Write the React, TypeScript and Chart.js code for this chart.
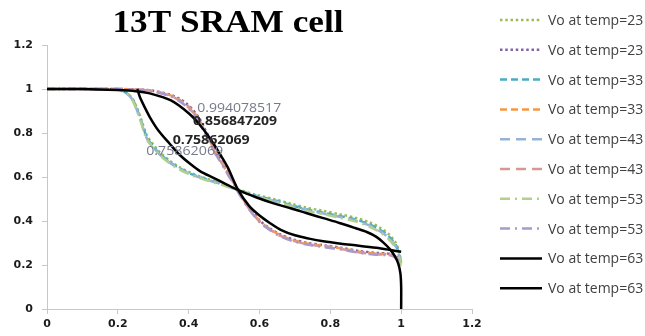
import React, { useEffect, useRef } from "react";
import { Chart, registerables } from "chart.js";

Chart.register(...registerables);

const TITLE = "13T SRAM cell";

const seriesLabels = [
  "Vo at temp=23",
  "Vo at temp=23",
  "Vo at temp=33",
  "Vo at temp=33",
  "Vo at temp=43",
  "Vo at temp=43",
  "Vo at temp=53",
  "Vo at temp=53",
  "Vo at temp=63",
  "Vo at temp=63",
];

const xTickValues = [0, 0.2, 0.4, 0.6, 0.8, 1, 1.2];
const yTickValues = [0, 0.2, 0.4, 0.6, 0.8, 1, 1.2];

// Group A (steep first) - shared x positions
const xA = [0, 0.1, 0.2, 0.215, 0.23, 0.243, 0.255, 0.265, 0.282, 0.3, 0.319, 0.345, 0.376, 0.41, 0.45, 0.5, 0.54, 0.59, 0.64, 0.69, 0.734, 0.78, 0.828, 0.875, 0.91, 0.94, 0.965, 0.985, 0.995, 1.0];
const yA23 = [1, 1, 0.998, 0.99, 0.976, 0.952, 0.91, 0.866, 0.79, 0.748, 0.712, 0.676, 0.643, 0.616, 0.593, 0.567, 0.544, 0.519, 0.5, 0.478, 0.46, 0.446, 0.43, 0.413, 0.394, 0.37, 0.34, 0.3, 0.255, 0.21];
const yA33 = [1, 1, 0.998, 0.99, 0.975, 0.95, 0.905, 0.86, 0.78, 0.74, 0.705, 0.67, 0.638, 0.612, 0.59, 0.565, 0.542, 0.515, 0.495, 0.472, 0.452, 0.438, 0.422, 0.405, 0.385, 0.36, 0.33, 0.29, 0.245, 0.2];
const yA43 = [1, 1, 0.998, 0.989, 0.973, 0.947, 0.9, 0.855, 0.775, 0.736, 0.701, 0.667, 0.635, 0.61, 0.588, 0.563, 0.54, 0.513, 0.492, 0.469, 0.449, 0.434, 0.418, 0.4, 0.38, 0.354, 0.323, 0.283, 0.238, 0.19];
const yA53 = [1, 1, 0.997, 0.988, 0.971, 0.944, 0.896, 0.85, 0.77, 0.732, 0.698, 0.664, 0.632, 0.607, 0.585, 0.561, 0.539, 0.511, 0.49, 0.466, 0.446, 0.431, 0.414, 0.396, 0.375, 0.349, 0.317, 0.277, 0.232, 0.18];

// Group B (gradual first) - shared x positions
const xB = [0, 0.1, 0.2, 0.25, 0.291, 0.347, 0.375, 0.395, 0.413, 0.43, 0.442, 0.457, 0.47, 0.485, 0.498, 0.512, 0.526, 0.54, 0.57, 0.602, 0.63, 0.658, 0.695, 0.734, 0.78, 0.828, 0.884, 0.93, 0.977, 1.0];
const yB23 = [1, 1, 1, 0.998, 0.994, 0.975, 0.954, 0.932, 0.903, 0.867, 0.829, 0.783, 0.738, 0.697, 0.661, 0.62, 0.582, 0.538, 0.463, 0.4, 0.366, 0.339, 0.316, 0.301, 0.29, 0.279, 0.263, 0.255, 0.248, 0.225];
const yB33 = [1, 1, 1, 0.998, 0.993, 0.972, 0.95, 0.927, 0.897, 0.86, 0.821, 0.775, 0.73, 0.69, 0.655, 0.615, 0.578, 0.535, 0.46, 0.397, 0.363, 0.336, 0.313, 0.298, 0.287, 0.276, 0.26, 0.252, 0.245, 0.22];
const yB43 = [1, 1, 1, 0.997, 0.992, 0.97, 0.947, 0.923, 0.892, 0.855, 0.815, 0.769, 0.725, 0.685, 0.651, 0.611, 0.575, 0.532, 0.457, 0.394, 0.36, 0.333, 0.31, 0.295, 0.284, 0.273, 0.257, 0.249, 0.242, 0.215];
const yB53 = [1, 1, 1, 0.997, 0.991, 0.968, 0.944, 0.919, 0.887, 0.85, 0.81, 0.764, 0.72, 0.681, 0.647, 0.608, 0.572, 0.53, 0.455, 0.392, 0.358, 0.331, 0.308, 0.293, 0.282, 0.271, 0.255, 0.247, 0.24, 0.21];

// temp=63 curves
const xC1 = [0, 0.1, 0.2, 0.25, 0.29, 0.35, 0.4, 0.43, 0.46, 0.49, 0.51, 0.54, 0.57, 0.6, 0.63, 0.66, 0.7, 0.74, 0.78, 0.83, 0.88, 0.93, 0.97, 1.0];
const yC1 = [1, 1, 0.995, 0.99, 0.98, 0.948, 0.89, 0.84, 0.776, 0.7, 0.645, 0.54, 0.47, 0.425, 0.39, 0.36, 0.335, 0.32, 0.308, 0.297, 0.288, 0.278, 0.268, 0.26];
const xC2 = [0.255, 0.262, 0.275, 0.291, 0.315, 0.347, 0.375, 0.404, 0.432, 0.47, 0.505, 0.54, 0.59, 0.64, 0.69, 0.734, 0.78, 0.828, 0.87, 0.903, 0.93, 0.95, 0.968, 0.982, 0.992, 0.998, 1.0, 1.0];
const yC2 = [1.0, 0.965, 0.92, 0.87, 0.81, 0.75, 0.7, 0.66, 0.627, 0.596, 0.568, 0.54, 0.508, 0.48, 0.457, 0.435, 0.413, 0.39, 0.368, 0.35, 0.328, 0.302, 0.272, 0.24, 0.205, 0.16, 0.1, 0.0];

// data labels shown in the chart
const dataLabelTexts = ["0.994078517", "0.856847209", "0.75862069", "0.75862069"];
const dataLabelX = [0.424, 0.412, 0.355, 0.28];
const dataLabelY = [0.914, 0.855, 0.768, 0.715];
const dataLabelBold = [false, true, true, false];

const seriesColors = ["#9bbb59", "#8064a2", "#4bacc6", "#f79646", "#95b3d7", "#da9694", "#b3cf8c", "#a899cc", "#000000", "#000000"];
const seriesDashes = [[2.5, 2.75], [2.5, 2.75], [7, 4], [7, 4], [10, 6], [10, 6], [10, 5, 2, 5], [10, 5, 2, 5], [], []];
const seriesWidths = [2.5, 2.5, 2.5, 2.5, 2.5, 2.5, 2.5, 2.5, 2.5, 2.5];

const seriesX = [xA, xB, xA, xB, xA, xB, xA, xB, xC1, xC2];
const seriesY = [yA23, yB23, yA33, yB33, yA43, yB43, yA53, yB53, yC1, yC2];

function drawStretched(ctx: CanvasRenderingContext2D, text: string, x: number, y: number, targetWidth: number, align: "left" | "center") {
  const w = ctx.measureText(text).width;
  const sx = targetWidth / w;
  ctx.save();
  ctx.translate(x, y);
  ctx.scale(sx, 1);
  ctx.textAlign = align;
  ctx.fillText(text, 0, 0);
  ctx.restore();
}

const decorPlugin = {
  id: "decor",
  afterDraw(chart: any) {
    const ctx: CanvasRenderingContext2D = chart.ctx;
    const xs = chart.scales.x;
    const ys = chart.scales.y;
    ctx.save();
    // title
    ctx.fillStyle = "#000000";
    ctx.font = "bold 31px 'Liberation Serif', serif";
    ctx.textBaseline = "alphabetic";
    drawStretched(ctx, TITLE, 228, 32, 231, "center");

    // data labels
    ctx.textBaseline = "middle";
    dataLabelTexts.forEach((t, i) => {
      ctx.font = (dataLabelBold[i] ? "bold " : "") + "13px 'Open Sans', sans-serif";
      ctx.fillStyle = dataLabelBold[i] ? "#262626" : "#767a8c";
      const px = xs.getPixelForValue(dataLabelX[i]);
      const py = ys.getPixelForValue(dataLabelY[i]);
      drawStretched(ctx, t, px, py, t.length === 11 ? 84 : 77, "left");
    });

    // legend
    ctx.font = "14px 'Open Sans', sans-serif";
    chart.data.datasets.forEach((ds: any, i: number) => {
      const y = 20 + i * 29.8;
      ctx.save();
      ctx.strokeStyle = ds.borderColor;
      ctx.lineWidth = ds.borderWidth;
      ctx.setLineDash(ds.borderDash || []);
      ctx.beginPath();
      ctx.moveTo(500, y);
      ctx.lineTo(542, y);
      ctx.stroke();
      ctx.restore();
      ctx.fillStyle = "#404040";
      ctx.textAlign = "left";
      ctx.textBaseline = "middle";
      ctx.fillText(ds.label, 548, y + 1);
    });
    ctx.restore();
  },
};

export default function App() {
  const ref = useRef<HTMLCanvasElement | null>(null);
  useEffect(() => {
    if (!ref.current) return;
    const datasets = seriesLabels.map((label, i) => ({
      label,
      data: seriesX[i].map((x, j) => ({ x, y: seriesY[i][j] })),
      borderColor: seriesColors[i],
      backgroundColor: seriesColors[i],
      borderDash: seriesDashes[i],
      borderWidth: seriesWidths[i],
      showLine: true,
      pointRadius: 0,
      pointHoverRadius: 0,
      tension: 0.3,
      fill: false,
      order: 10 - i,
    }));
    const tickFont = { family: "'DejaVu Sans', sans-serif", size: 11, weight: "bold" as const };
    const fmt = (v: any) => String(Number(Number(v).toFixed(1)));
    const chart = new Chart(ref.current, {
      type: "scatter",
      data: { datasets },
      plugins: [decorPlugin],
      options: {
        animation: false,
        responsive: false,
        events: [],
        layout: { padding: { left: 0, top: 45, right: 173, bottom: 0 } },
        plugins: { legend: { display: false }, title: { display: false }, tooltip: { enabled: false } },
        scales: {
          x: {
            type: "linear",
            min: xTickValues[0],
            max: xTickValues[xTickValues.length - 1],
            afterBuildTicks: (s: any) => { s.ticks = xTickValues.map((v) => ({ value: v })); },
            afterFit: (s: any) => { s.height = 27; },
            ticks: { font: tickFont, color: "#1a1a1a", padding: 4, callback: fmt, maxRotation: 0, autoSkip: false },
            grid: { display: true, drawOnChartArea: false, drawTicks: true, tickLength: 5, color: "#c8c8c8" },
            border: { display: true, color: "#c8c8c8", width: 1 },
          },
          y: {
            type: "linear",
            min: yTickValues[0],
            max: yTickValues[yTickValues.length - 1],
            afterBuildTicks: (s: any) => { s.ticks = yTickValues.map((v) => ({ value: v })); },
            afterFit: (s: any) => { s.width = 47; },
            ticks: { font: tickFont, color: "#1a1a1a", padding: 9, callback: fmt, autoSkip: false },
            grid: { display: true, drawOnChartArea: false, drawTicks: true, tickLength: 5, color: "#c8c8c8" },
            border: { display: true, color: "#c8c8c8", width: 1 },
          },
        },
      },
    });
    return () => chart.destroy();
  }, []);
  return (
    <div style={{ position: "fixed", left: 0, top: 0, width: 645, height: 336, background: "#ffffff" }}>
      <canvas ref={ref} width={645} height={336} style={{ display: "block", width: 645, height: 336 }} />
    </div>
  );
}
